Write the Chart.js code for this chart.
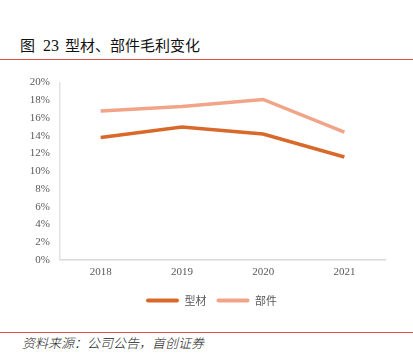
<!DOCTYPE html>
<html>
<head>
<meta charset="utf-8">
<script src="https://cdn.jsdelivr.net/npm/chart.js@4/dist/chart.umd.min.js"></script>
<style>
  html, body { margin: 0; padding: 0; background: #fff; width: 413px; height: 364px; overflow: hidden; }
  #title { position: absolute; left: 20px; top: 35px; font-family: "Noto Sans CJK SC", sans-serif; font-size: 15px; color: #111; line-height: 20px; }
  #title .num { font-family: "Liberation Serif", serif; font-size: 16px; margin: 0 6px 0 8px; }
  .redline { position: absolute; left: 0; width: 413px; height: 1px; background: #E0504F; }
  #source { position: absolute; left: 22px; top: 334px; font-family: "Noto Sans CJK SC", sans-serif; font-weight: 300; font-style: italic; font-size: 13px; color: #222; line-height: 18px; }
  #wrap { position: absolute; left: 0; top: 66px; width: 400px; height: 254px; }
</style>
</head>
<body>
<div id="title">图<span class="num">23</span>型材、部件毛利变化</div>
<div class="redline" style="top:59px"></div>
<div id="wrap"><canvas id="c"></canvas></div>
<div class="redline" style="top:332px"></div>
<div id="source">资料来源：公司公告，首创证券</div>
<script>
const categories = ["2018", "2019", "2020", "2021"];
const profileMargin = [13.8, 15.0, 14.2, 11.6];   // 型材
const partsMargin = [16.8, 17.3, 18.1, 14.4];     // 部件
const seriesNames = ["型材", "部件"];
const yTicks = [0, 2, 4, 6, 8, 10, 12, 14, 16, 18, 20];

const legendShift = {
  id: "legendShift",
  afterLayout(chart) {
    const lg = chart.legend;
    if (lg) { lg.left += 19; lg.right += 19; }
  }
};

new Chart(document.getElementById("c"), {
  type: "line",
  data: {
    labels: categories,
    datasets: [
      { label: seriesNames[0], data: profileMargin, borderColor: "#D9692B", backgroundColor: "#D9692B", borderWidth: 3.5, pointRadius: 0, tension: 0 },
      { label: seriesNames[1], data: partsMargin, borderColor: "#F2A488", backgroundColor: "#F2A488", borderWidth: 3.5, pointRadius: 0, tension: 0 }
    ]
  },
  plugins: [legendShift],
  options: {
    responsive: true,
    maintainAspectRatio: false,
    animation: false,
    layout: { padding: { top: 8, right: 15, bottom: 4, left: 0 } },
    plugins: {
      legend: {
        position: "bottom",
        labels: {
          font: { family: "Noto Sans CJK SC", size: 11 },
          color: "#595959",
          boxWidth: 33,
          boxHeight: 4,
          padding: 10,
          generateLabels(chart) {
            return chart.data.datasets.map((d, i) => ({
              text: d.label, fillStyle: d.borderColor, strokeStyle: d.borderColor,
              lineWidth: 0, datasetIndex: i, fontColor: "#595959", borderRadius: 2
            }));
          }
        }
      },
      tooltip: { enabled: false }
    },
    scales: {
      x: {
        offset: true,
        grid: { display: false, drawTicks: false, offset: true },
        border: { color: "#D9D9D9", width: 1.5 },
        ticks: { font: { family: "Liberation Serif", size: 11 }, color: "#595959", padding: 6 }
      },
      y: {
        min: 0, max: 20,
        afterFit(scale) { scale.width = 60; },
        afterBuildTicks(scale) { scale.ticks = yTicks.map(v => ({ value: v })); },
        grid: { display: false, drawTicks: false },
        border: { color: "#E3E3E3", width: 1.5 },
        ticks: { autoSkip: false, font: { family: "Liberation Serif", size: 11 }, color: "#595959", padding: 10, callback: v => v + "%" }
      }
    }
  }
});
</script>
</body>
</html>
